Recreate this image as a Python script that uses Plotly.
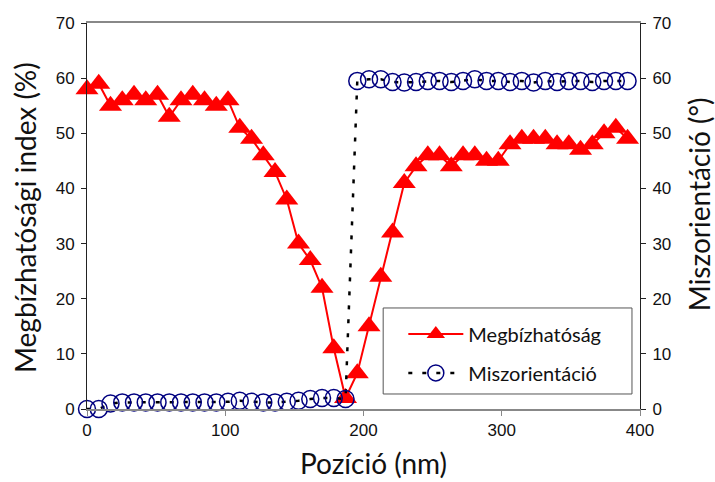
import plotly.graph_objects as go

# ---- data ----
position_nm = [0, 8.5, 17, 25.5, 34, 42.5, 51, 59.5, 68, 76.5, 85, 93.5, 102, 110.5,
               119, 127.5, 136, 144.5, 153, 161.5, 170, 178.5, 187, 195.5, 204, 212.5,
               221, 229.5, 238, 246.5, 255, 263.5, 272, 280.5, 289, 297.5, 306, 314.5,
               323, 331.5, 340, 348.5, 357, 365.5, 374, 382.5, 391]

megbizhatosag = [58, 59, 55, 56, 57, 56, 57, 53, 56, 57, 56, 55, 56, 51, 49, 46, 43,
                 38, 30, 27, 22, 11, 2, 6.5, 15, 24, 32, 41, 44, 46, 46, 44, 46, 46,
                 45, 45, 48, 49, 49, 49, 48, 48, 47, 48, 50, 51, 49]

miszorientacio = [0, 0, 1.0, 1.2, 1.2, 1.2, 1.2, 1.2, 1.2, 1.2, 1.2, 1.2, 1.3, 1.5,
                  1.3, 1.2, 1.2, 1.3, 1.5, 1.8, 2.0, 2.0, 1.8, 59.5, 59.8, 59.8, 59.3,
                  59.2, 59.3, 59.5, 59.5, 59.3, 59.5, 59.8, 59.5, 59.5, 59.3, 59.5,
                  59.2, 59.5, 59.3, 59.5, 59.5, 59.3, 59.5, 59.5, 59.5]

x_ticks = [0, 100, 200, 300, 400]
y_ticks = [0, 10, 20, 30, 40, 50, 60, 70]

name_a = "Megbízhatóság"
name_b = "Miszorientáció"
x_title = "Pozíció (nm)"
y_title = "Megbízhatósági index (%)"
y2_title = "Miszorientáció (°)"

TITLE_FONT = "Lato, Carlito, Calibri, sans-serif"
TICK_FONT = "Liberation Sans, Arial, sans-serif"

fig = go.Figure()

fig.add_trace(go.Scatter(
    x=position_nm, y=megbizhatosag, name=name_a, mode="lines+markers",
    line=dict(color="#ff0000", width=2),
    marker=dict(symbol="triangle-up", size=20, color="#ff0000",
                line=dict(width=0)),
    cliponaxis=False, legendgroup="a", yaxis="y"))

fig.add_trace(go.Scatter(
    x=position_nm, y=miszorientacio, name=name_b, mode="lines+markers",
    line=dict(color="#000000", width=2.5, dash="4px,10px"),
    marker=dict(symbol="circle-open", size=17, color="#000080",
                line=dict(width=1.5, color="#000080")),
    cliponaxis=False, legendgroup="b", yaxis="y2"))

fig.update_layout(
    width=715, height=482,
    margin=dict(l=87, r=75, t=23, b=73),
    paper_bgcolor="white", plot_bgcolor="white",
    showlegend=True,
    legend=dict(x=0.572, y=0.245, xanchor="left", yanchor="top",
                bgcolor="rgba(0,0,0,0)", borderwidth=0,
                font=dict(family=TITLE_FONT, size=20, color="#111"),
                itemwidth=55, tracegroupgap=10, traceorder="grouped"),
    xaxis=dict(range=[0, 400], tickvals=x_ticks, ticks="outside", ticklen=5,
               tickcolor="#888", showline=True, linecolor="#888", linewidth=1.5,
               mirror=True, showgrid=False, zeroline=False,
               tickfont=dict(family=TICK_FONT, size=17, color="#111")),
    yaxis=dict(range=[0, 70], tickvals=y_ticks, ticks="outside", ticklen=5,
               tickcolor="#222", showline=True, linecolor="#222", linewidth=1,
               showgrid=False, zeroline=False, ticklabelstandoff=3,
               tickfont=dict(family=TICK_FONT, size=17, color="#111")),
    yaxis2=dict(range=[0, 70], tickvals=y_ticks, ticks="outside", ticklen=5,
                tickcolor="#222", showline=True, linecolor="#222", linewidth=1,
                overlaying="y", side="right", showgrid=False, zeroline=False,
                ticklabelstandoff=3,
                tickfont=dict(family=TICK_FONT, size=17, color="#111")),
    shapes=[dict(type="rect", xref="paper", yref="paper",
                 x0=0.5356, x1=0.9855, y0=0.0389, y1=0.2617,
                 line=dict(color="#555", width=1), fillcolor="white",
                 layer="above")],
    annotations=[
        dict(text=x_title, xref="paper", yref="paper", x=0.5175, y=-0.14,
             showarrow=False, font=dict(family=TITLE_FONT, size=28, color="#111"),
             xanchor="center", yanchor="middle"),
        dict(text=y_title, xref="paper", yref="paper", x=-0.112, y=0.495,
             showarrow=False, textangle=-90,
             font=dict(family=TITLE_FONT, size=28, color="#111"),
             xanchor="center", yanchor="middle"),
        dict(text=y2_title, xref="paper", yref="paper", x=1.108, y=0.53,
             showarrow=False, textangle=-90,
             font=dict(family=TITLE_FONT, size=28, color="#111"),
             xanchor="center", yanchor="middle"),
    ],
)

fig.write_html("out.html")
